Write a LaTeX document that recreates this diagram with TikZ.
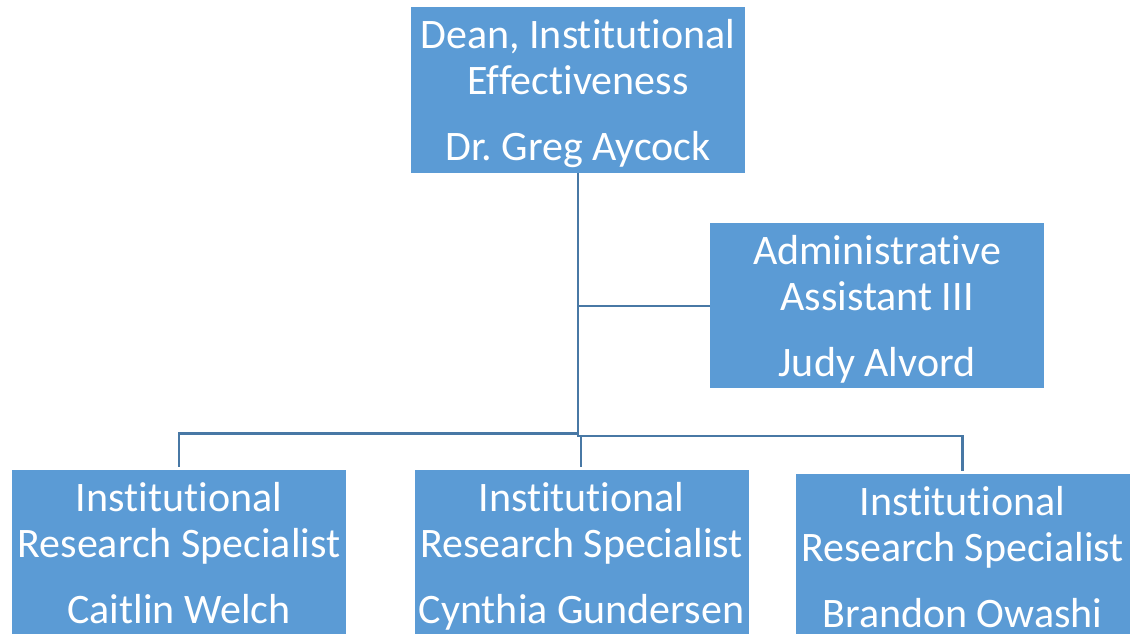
\documentclass[tikz,border=0pt]{standalone}
\usepackage{fontspec}
\setmainfont[Ligatures=NoCommon]{Carlito}
\definecolor{boxblue}{RGB}{91,155,213}
\definecolor{linkblue}{RGB}{72,120,165}
\begin{document}
\frenchspacing
\begin{tikzpicture}[x=1pt,y=-1pt,
  orgbox/.style={fill=boxblue, draw=none, text=white, align=center,
    minimum width=334pt, inner sep=0pt, text depth=0pt,
    font=\fontsize{42}{46}\selectfont},
  link/.style={draw=linkblue, line width=2.6pt}]
\useasboundingbox (0,0) rectangle (1132,633);
\node[orgbox, minimum height=166pt] (dean) at (578,90)
  {Dean, Institutional\\Effectiveness\\[20pt]Dr. Greg Aycock};
\node[orgbox, minimum height=165pt] (admin) at (877,305.5)
  {Administrative\\Assistant III\\[20pt]Judy Alvord};
\node[orgbox, minimum height=165pt] (s1) at (179,552.5)
  {Institutional\\Research Specialist\\[20pt]Caitlin Welch};
\node[orgbox, minimum height=165pt] (s2) at (581.5,552.5)
  {Institutional\\Research Specialist\\[20pt]Cynthia Gundersen};
\node[orgbox, minimum height=165pt] (s3) at (962.5,556.5)
  {Institutional\\Research Specialist\\[20pt]Brandon Owashi};
\coordinate (jadmin) at (578,306);
\coordinate (jl) at (578,433.5);
\coordinate (jr) at (578,436);
\coordinate (jm) at (581,436);
\draw[link] (dean.south) -- (578,437);
\draw[link] (jadmin) -- (jadmin -| admin.west);
\draw[link, shorten >=3pt] (jl) -| (s1.north);
\draw[link, shorten >=3pt] (jr) -| (s3.north);
\draw[link, shorten >=3pt] (jm) -- (jm |- s2.north);
\end{tikzpicture}
\end{document}
